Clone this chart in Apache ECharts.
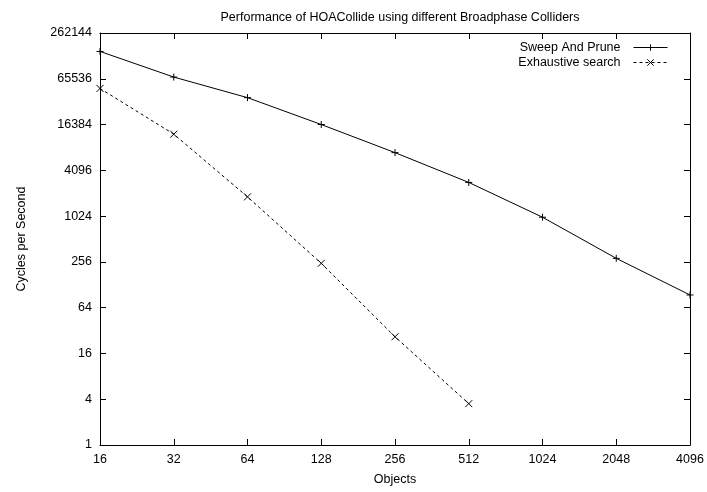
<!DOCTYPE html>
<html>
<head>
<meta charset="utf-8">
<script src="https://cdn.jsdelivr.net/npm/echarts@6/dist/echarts.min.js"></script>
<style>
  html, body { margin: 0; padding: 0; background: #fff; }
  #chart { width: 707px; height: 492px; }
</style>
</head>
<body>
<div id="chart"></div>
<script>
// object counts along the x axis
const objectCounts = [16, 32, 64, 128, 256, 512, 1024, 2048, 4096];
// cycles per second
const sweepAndPrune = [150000, 69000, 37000, 16400, 7000, 2840, 990, 285, 94];
const exhaustiveSearch = [48900, 12250, 1835, 245, 26.5, 3.5];

const FONT = 'Liberation Sans, Arial, sans-serif';
const plusIcon = 'path://M5,0L5,10M0,5L10,5';
const crossIcon = 'path://M0,0L10,10M0,10L10,0';

function pairs(xs, ys) {
    return ys.map((y, i) => [xs[i], y]);
}

let chart = echarts.init(document.getElementById('chart'));

const tickOnly = {
    axisLine: { show: false },
    axisLabel: { show: false },
    splitLine: { show: false }
};

let option = {
    animation: false,
    backgroundColor: '#fff',
    title: {
        text: 'Performance of HOACollide using different Broadphase Colliders',
        left: 395, top: 6, textAlign: 'center',
        textStyle: { fontFamily: FONT, fontSize: 12.5, fontWeight: 'normal', color: '#000' }
    },
    legend: {
        right: 34, top: 36,
        orient: 'vertical',
        align: 'right',
        itemWidth: 34, itemHeight: 8, itemGap: 2,
        lineStyle: { width: 1 },
        itemStyle: { borderWidth: 1 },
        textStyle: { fontFamily: FONT, fontSize: 12.5, color: '#000', padding: [0, 8, 0, 0] },
        data: ['Sweep And Prune', 'Exhaustive search']
    },
    grid: { left: 100, right: 17, top: 33, bottom: 47 },
    xAxis: [{
        type: 'log', logBase: 2, min: 16, max: 4096, splitNumber: 8,
        name: 'Objects', nameLocation: 'middle', nameGap: 28,
        nameTextStyle: { fontFamily: FONT, fontSize: 12.5, color: '#000' },
        axisLine: { lineStyle: { color: '#000', width: 1 } },
        axisTick: { inside: true, length: 6, lineStyle: { color: '#000' } },
        axisLabel: { fontFamily: FONT, fontSize: 12.5, color: '#000', margin: 8, formatter: v => String(Math.round(v)) },
        splitLine: { show: false }
    }, {
        type: 'log', logBase: 2, min: 16, max: 4096, splitNumber: 8, position: 'top',
        axisLine: { lineStyle: { color: '#000', width: 1 } },
        axisTick: { inside: true, length: 6, lineStyle: { color: '#000' } },
        axisLabel: { show: false },
        splitLine: { show: false }
    }],
    yAxis: [{
        type: 'log', logBase: 4, min: 1, max: 262144, splitNumber: 9,
        name: 'Cycles per Second', nameLocation: 'middle', nameGap: 72,
        nameTextStyle: { fontFamily: FONT, fontSize: 12.5, color: '#000' },
        axisLine: { lineStyle: { color: '#000', width: 1 } },
        axisTick: { inside: true, length: 6, lineStyle: { color: '#000' } },
        axisLabel: { fontFamily: FONT, fontSize: 12.5, color: '#000', margin: 8, formatter: v => String(Math.round(v)) },
        splitLine: { show: false }
    }, {
        type: 'log', logBase: 4, min: 1, max: 262144, splitNumber: 9, position: 'right',
        axisLine: { lineStyle: { color: '#000', width: 1 } },
        axisTick: { inside: true, length: 6, lineStyle: { color: '#000' } },
        axisLabel: { show: false },
        splitLine: { show: false }
    }, Object.assign({
        type: 'log', logBase: 2, min: 1, max: 262144, splitNumber: 18, position: 'left',
        axisTick: { inside: true, length: 3, lineStyle: { color: '#000' } }
    }, tickOnly), Object.assign({
        type: 'log', logBase: 2, min: 1, max: 262144, splitNumber: 18, position: 'right',
        axisTick: { inside: true, length: 3, lineStyle: { color: '#000' } }
    }, tickOnly)],
    series: [{
        name: 'Sweep And Prune',
        type: 'line',
        data: pairs(objectCounts, sweepAndPrune),
        symbol: plusIcon, symbolSize: 7,
        itemStyle: { color: '#000', borderColor: '#000', borderWidth: 1 },
        lineStyle: { color: '#000', width: 1 }
    }, {
        name: 'Exhaustive search',
        type: 'line',
        data: pairs(objectCounts, exhaustiveSearch),
        symbol: crossIcon, symbolSize: 7,
        itemStyle: { color: '#000', borderColor: '#000', borderWidth: 1 },
        lineStyle: { color: '#000', width: 1, type: [3, 3] }
    }]
};

chart.setOption(option);
</script>
</body>
</html>
